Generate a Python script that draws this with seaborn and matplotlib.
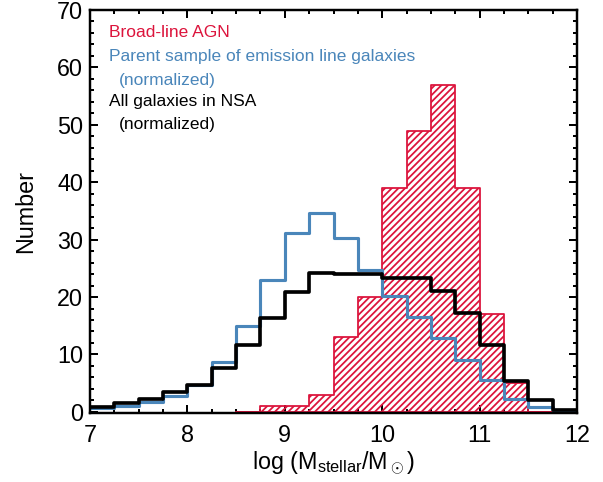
import numpy as np
import pandas as pd
import matplotlib
matplotlib.use("Agg")
import matplotlib.pyplot as plt
import seaborn as sns
from matplotlib.ticker import MultipleLocator

# bin edges in log stellar mass (0.25 dex bins)
edges = [7.0, 7.25, 7.5, 7.75, 8.0, 8.25, 8.5, 8.75, 9.0, 9.25, 9.5,
         9.75, 10.0, 10.25, 10.5, 10.75, 11.0, 11.25, 11.5, 11.75, 12.0]
centers = [7.125, 7.375, 7.625, 7.875, 8.125, 8.375, 8.625, 8.875, 9.125, 9.375,
           9.625, 9.875, 10.125, 10.375, 10.625, 10.875, 11.125, 11.375, 11.625, 11.875]

# counts per bin
agn = [0, 0, 0, 0, 0, 0, 0, 1, 1, 3, 13, 20, 39, 49, 57, 39, 17, 5, 0, 0]
parent = [0.6, 1.1, 1.8, 2.8, 4.6, 8.7, 14.9, 22.9, 31.2, 34.7, 30.2, 24.7,
          20.1, 16.6, 12.9, 9.1, 5.5, 2.2, 0.9, 0.1]
nsa = [0.9, 1.5, 2.2, 3.5, 4.7, 7.6, 11.6, 16.4, 20.8, 24.1, 24.0, 24.0,
       23.4, 23.4, 21.0, 17.2, 11.6, 5.4, 2.0, 0.3]

red = '#DC143C'
blue = '#4A86BA'

df = pd.DataFrame({'logm': centers, 'agn': agn, 'parent': parent, 'nsa': nsa})

sns.set_style('ticks')
plt.rcParams['font.family'] = ['Liberation Sans', 'DejaVu Sans']
plt.rcParams['mathtext.fontset'] = 'custom'
plt.rcParams['mathtext.rm'] = 'Liberation Sans'
plt.rcParams['mathtext.it'] = 'Liberation Sans:italic'
plt.rcParams['hatch.linewidth'] = 1.6
plt.rcParams['text.color'] = 'black'
plt.rcParams['axes.labelcolor'] = 'black'
plt.rcParams['xtick.color'] = 'black'
plt.rcParams['ytick.color'] = 'black'

DPI = 80
fig = plt.figure(figsize=(603 / DPI, 482 / DPI), dpi=DPI)
ax = fig.add_axes([90 / 603, 1 - 413 / 482, 487 / 603, 403 / 482])

# broad-line AGN, hatched
agn_df = df[(df['logm'] > 8.5) & (df['logm'] < 11.75)]
sns.histplot(data=agn_df, x='logm', weights='agn', bins=edges[6:20], element='step',
             fill=True, color=red, facecolor='none', edgecolor=red, hatch='////',
             linewidth=1.6, ax=ax)
sns.histplot(data=df, x='logm', weights='parent', bins=edges, element='step',
             fill=False, color=blue, linewidth=2.8, ax=ax)
sns.histplot(data=df, x='logm', weights='nsa', bins=edges, element='step',
             fill=False, color='black', linewidth=3.3, ax=ax)

ax.set_xlim(7, 12)
ax.set_ylim(-0.2, 70)
ax.xaxis.set_major_locator(MultipleLocator(1))
ax.xaxis.set_minor_locator(MultipleLocator(0.25))
ax.yaxis.set_major_locator(MultipleLocator(10))
ax.yaxis.set_minor_locator(MultipleLocator(2))
ax.tick_params(which='both', direction='in', top=True, right=True, width=1.8,
               colors='black', labelcolor='black')
ax.tick_params(which='major', length=7, labelsize=21)
ax.tick_params(which='minor', length=4)
ax.tick_params(axis='x', which='major', pad=10)
ax.tick_params(axis='y', which='major', pad=6)
for s in ax.spines.values():
    s.set_linewidth(2.2)
    s.set_color('black')

ax.set_xlabel(r'log (M$_\mathrm{stellar}$/M$_\odot$)', fontsize=21, labelpad=2, color='black')
ax.set_ylabel('Number', fontsize=21, labelpad=18, color='black')

fs = 15.7
ax.text(0.039, 0.943, 'Broad-line AGN', color=red, fontsize=fs,
        transform=ax.transAxes, va='center', ha='left')
ax.text(0.039, 0.884, 'Parent sample of emission line galaxies', color=blue, fontsize=fs,
        transform=ax.transAxes, va='center', ha='left')
ax.text(0.0596, 0.826, '(normalized)', color=blue, fontsize=fs,
        transform=ax.transAxes, va='center', ha='left')
ax.text(0.039, 0.772, 'All galaxies in NSA', color='black', fontsize=fs,
        transform=ax.transAxes, va='center', ha='left')
ax.text(0.0596, 0.715, '(normalized)', color='black', fontsize=fs,
        transform=ax.transAxes, va='center', ha='left')

fig.savefig('out.png', dpi=DPI)
